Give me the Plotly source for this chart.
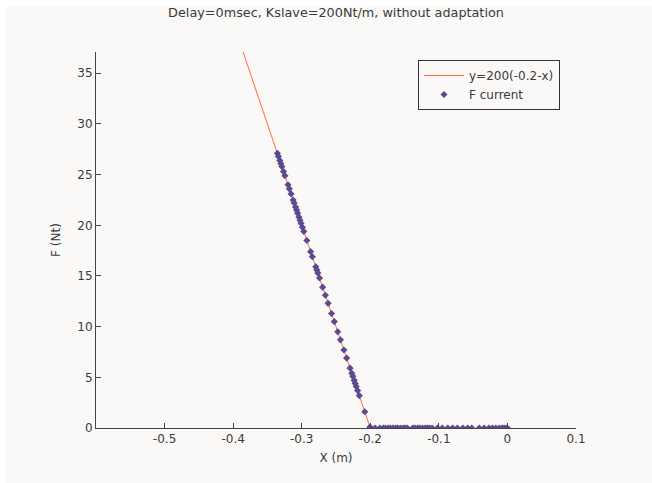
import plotly.graph_objects as go

# reference line y = 200(-0.2 - x)
line_x = [-0.40, -0.20]
line_y = [40.0, 0.0]

# measured points on the sloped part
pts_F = [27.1, 26.8, 26.4, 26.1, 25.8, 25.3, 24.9, 24.0, 23.6, 23.1, 22.5, 22.2,
         21.8, 21.5, 21.2, 20.8, 20.5, 20.2, 19.8, 19.4, 18.5, 17.4, 16.9, 15.9,
         15.6, 15.3, 14.8, 13.9, 13.1, 12.3, 11.3, 10.5, 9.5, 8.7, 7.7, 6.9, 5.9,
         5.4, 5.1, 4.7, 4.4, 4.1, 3.7, 3.2, 1.6, 0.1]
pts_X = [-0.3355, -0.334, -0.332, -0.3305, -0.329, -0.3265, -0.3245, -0.320, -0.318,
         -0.3155, -0.3125, -0.311, -0.309, -0.3075, -0.306, -0.304, -0.3025, -0.301,
         -0.299, -0.297, -0.2925, -0.287, -0.2845, -0.2795, -0.278, -0.2765, -0.274,
         -0.2695, -0.2655, -0.2615, -0.2565, -0.2525, -0.2475, -0.2435, -0.2385,
         -0.2345, -0.2295, -0.227, -0.2255, -0.2235, -0.222, -0.2205, -0.2185,
         -0.216, -0.208, -0.2005]

# measured points on the flat part (F = 0)
flat_X = [-0.200, -0.193, -0.186, -0.181, -0.178, -0.174, -0.171, -0.167, -0.163,
          -0.160, -0.156, -0.152, -0.149, -0.146, -0.138, -0.135, -0.131, -0.128,
          -0.124, -0.120, -0.117, -0.114, -0.110, -0.102, -0.095, -0.087, -0.080,
          -0.073, -0.065, -0.058, -0.052, -0.041, -0.034, -0.027, -0.022, -0.017,
          -0.012, -0.008, -0.005, -0.002, 0.000]
flat_F = [0.0] * len(flat_X)

x_ticks = [-0.5, -0.4, -0.3, -0.2, -0.1, 0, 0.1]
x_tick_labels = ["-0.5", "-0.4", "-0.3", "-0.2", "-0.1", "0", "0.1"]
y_ticks = [0, 5, 10, 15, 20, 25, 30, 35]

bg = "#faf9f7"
axis_col = "#444444"
txt_col = "#3a3a3a"
font = "DejaVu Sans, Arial, sans-serif"

# canvas slightly larger than the window so the off-white fills it to the edges
W, H = 662, 493
L, T = 96, 52
R, B = 76 + (W - 652), 55 + (H - 483)
pw, ph = W - L - R, H - T - B

fig = go.Figure()
fig.add_trace(go.Scatter(x=line_x, y=line_y, mode="lines", name="y=200(-0.2-x)",
                         line=dict(color="#ff6a3d", width=1)))
fig.add_trace(go.Scatter(x=pts_X + flat_X, y=pts_F + flat_F, mode="markers",
                         name="F current",
                         marker=dict(symbol="diamond", size=5.5, color="#5b4a8f",
                                     line=dict(width=0))))

# thin white strips at the top and left edge of the canvas
fig.add_shape(type="rect", xref="paper", yref="paper", layer="above",
              x0=-L / pw, x1=(W - L) / pw, y0=(H - B - 7) / ph, y1=(H - B) / ph,
              fillcolor="#ffffff", line=dict(width=0))
fig.add_shape(type="rect", xref="paper", yref="paper", layer="above",
              x0=-L / pw, x1=(5 - L) / pw, y0=-B / ph, y1=(H - B) / ph,
              fillcolor="#ffffff", line=dict(width=0))

fig.update_layout(
    width=W, height=H,
    paper_bgcolor=bg, plot_bgcolor=bg,
    margin=dict(l=L, r=R, t=T, b=B),
    font=dict(family=font, size=12, color=axis_col),
    title=dict(text="Delay=0msec, Kslave=200Nt/m, without adaptation",
               x=(L + L + pw) / 2 / W, xanchor="center", y=1 - 12.5 / H, yanchor="middle",
               font=dict(size=12.8, color=txt_col)),
    showlegend=True,
    legend=dict(x=(418 - L) / pw, y=(T + ph - 60) / ph, xanchor="left", yanchor="top",
                bgcolor=bg, bordercolor="#333333", borderwidth=1,
                font=dict(size=12, color=txt_col),
                itemwidth=40, tracegroupgap=0),
    xaxis=dict(range=[-0.6, 0.1], tickvals=x_ticks, ticktext=x_tick_labels,
               showgrid=False, zeroline=False, showline=True, linecolor=axis_col,
               linewidth=1, ticks="inside", ticklen=5, tickcolor=axis_col,
               tickfont=dict(color=txt_col),
               title=dict(text="X (m)", standoff=8, font=dict(size=12, color=txt_col))),
    yaxis=dict(range=[0, 37.1], tickvals=y_ticks,
               showgrid=False, zeroline=False, showline=True, linecolor=axis_col,
               linewidth=1, ticks="inside", ticklen=5, tickcolor=axis_col,
               tickfont=dict(color=txt_col),
               title=dict(text="F (Nt)", standoff=14, font=dict(size=12, color=txt_col))),
)

fig.write_html(
    "out.html", config={"displayModeBar": False},
    post_script=("document.body.style.margin='0';"
                 "document.body.style.overflow='hidden';"
                 "document.body.style.background='" + bg + "';"
                 "document.documentElement.style.background='" + bg + "';"),
)
